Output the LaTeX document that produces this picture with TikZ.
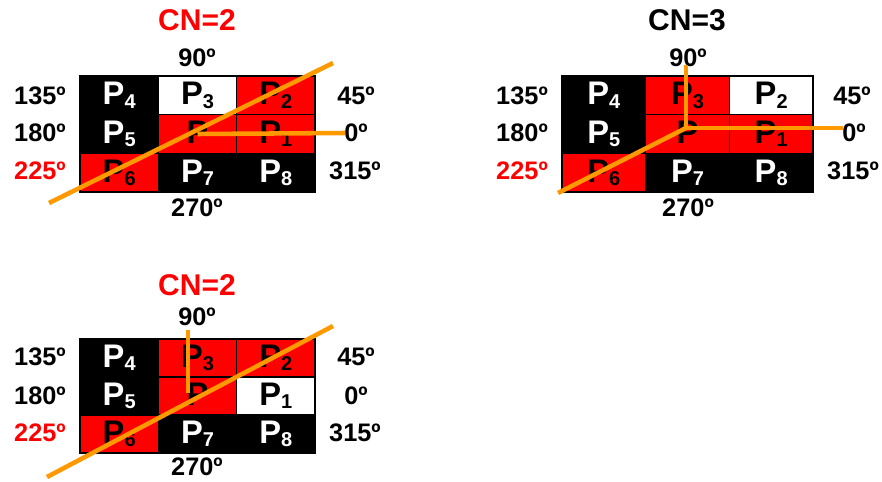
\documentclass[tikz,border=0pt]{standalone}
\usepackage{fontspec}
\setmainfont{Liberation Sans}
\usetikzlibrary{positioning}
\definecolor{CellRed}{HTML}{FF0000}
\definecolor{Cut}{HTML}{FF9900}
\newcommand{\pp}[1]{P{\fontsize{15}{15}\selectfont\raisebox{-2.5pt}{#1}}}

\begin{document}
\begin{tikzpicture}[x=0.75pt,y=-0.75pt,
  cell/.style={draw=black,line width=1.1pt,inner sep=0pt,minimum height=29pt,minimum width=58.75pt,font=\bfseries\fontsize{24.5}{24.5}\selectfont},
  cellk/.style={cell,fill=black,text=white},
  cellr/.style={cell,fill=CellRed,text=black},
  cellw/.style={cell,fill=white,text=black},
  deg/.style={font=\bfseries\fontsize{19}{19}\selectfont,inner sep=0pt},
  cn/.style={font=\bfseries\fontsize{22.5}{22.5}\selectfont,inner sep=0pt},
  cut/.style={Cut,line width=3.4pt}]
  \useasboundingbox[fill=white] (0,0) rectangle (882,482);

  % panel a: CN=2, horizontal line
  \begin{scope}[shift={(80,76)}]
    \foreach \i/\j/\s/\n in {0/0/cellk/4,1/0/cellw/3,2/0/cellr/2,0/1/cellk/5,1/1/cellr/{},2/1/cellr/1,0/2/cellr/6,1/2/cellk/7,2/2/cellk/8}
      \node[\s] (a-p\n) at ({78.33*\i+39.17},{38.67*\j+19.33}) {\pp{\n}};
  \end{scope}
  \node[cn,text=CellRed] (a-cn) at (197,20) {CN=2};
  \node[deg] (a-90) at (197,58) {90º};
  \node[deg] (a-135) at (40,96) {135º};
  \node[deg] (a-180) at (40,133) {180º};
  \node[deg,text=CellRed] (a-225) at (40,171) {225º};
  \node[deg] (a-45) at (356,96) {45º};
  \node[deg] (a-0) at (356,133) {0º};
  \node[deg] (a-315) at (355,171) {315º};
  \node[deg] (a-270) at (197,208) {270º};
  \coordinate (a-cut1) at (49,203);
  \coordinate (a-cut2) at (333,63);
  \coordinate (a-end0) at (345,133);
  \draw[cut] (a-cut1) -- (a-cut2);
  \draw[cut] (a-p.center) -- (a-end0);

  % panel b: CN=3
  \begin{scope}[shift={(562,76)},cell/.append style={minimum width=62.75pt}]
    \foreach \i/\j/\s/\n in {0/0/cellk/4,1/0/cellr/3,2/0/cellw/2,0/1/cellk/5,1/1/cellr/{},2/1/cellr/1,0/2/cellr/6,1/2/cellk/7,2/2/cellk/8}
      \node[\s] (b-p\n) at ({83.67*\i+41.83},{38.67*\j+19.33}) {\pp{\n}};
  \end{scope}
  \node[cn] (b-cn) at (687,20) {CN=3};
  \node[deg] (b-90) at (688,58) {90º};
  \node[deg] (b-135) at (522,96) {135º};
  \node[deg] (b-180) at (522,133) {180º};
  \node[deg,text=CellRed] (b-225) at (522,171) {225º};
  \node[deg] (b-45) at (852,96) {45º};
  \node[deg] (b-0) at (854,133) {0º};
  \node[deg] (b-315) at (853,171) {315º};
  \node[deg] (b-270) at (688,208) {270º};
  \coordinate (b-o) at (686,128);
  \coordinate (b-end90) at (686,65);
  \coordinate (b-end0) at (843,128);
  \coordinate (b-end225) at (558,193);
  \draw[cut] (b-end90) -- (b-o) -- (b-end0);
  \draw[cut] (b-o) -- (b-end225);

  % panel c: CN=2, vertical line
  \begin{scope}[shift={(80,339)},cell/.append style={minimum height=28.5pt}]
    \foreach \i/\j/\s/\n in {0/0/cellk/4,1/0/cellr/3,2/0/cellr/2,0/1/cellk/5,1/1/cellr/{},2/1/cellw/1,0/2/cellr/6,1/2/cellk/7,2/2/cellk/8}
      \node[\s] (c-p\n) at ({78.33*\i+39.17},{38*\j+19}) {\pp{\n}};
  \end{scope}
  \node[cn,text=CellRed] (c-cn) at (197,285) {CN=2};
  \node[deg] (c-90) at (197,317) {90º};
  \node[deg] (c-135) at (40,357) {135º};
  \node[deg] (c-180) at (40,396) {180º};
  \node[deg,text=CellRed] (c-225) at (40,433) {225º};
  \node[deg] (c-45) at (356,357) {45º};
  \node[deg] (c-0) at (356,396) {0º};
  \node[deg] (c-315) at (355,433) {315º};
  \node[deg] (c-270) at (197,467) {270º};
  \coordinate (c-end90) at (188,330);
  \coordinate (c-o) at (188,393);
  \coordinate (c-cut1) at (47,477);
  \coordinate (c-cut2) at (333,326);
  \draw[cut] (c-end90) -- (c-o);
  \draw[cut] (c-cut1) -- (c-cut2);
\end{tikzpicture}
\end{document}
